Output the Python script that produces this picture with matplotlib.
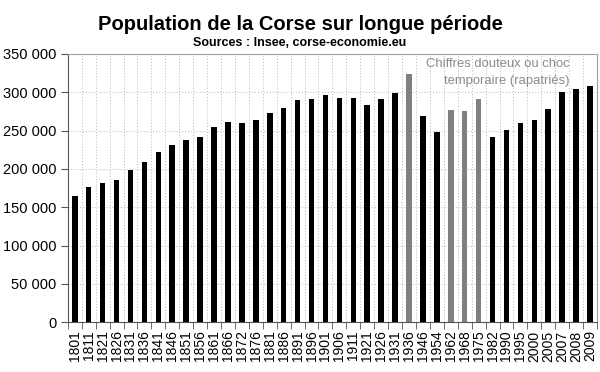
import matplotlib
matplotlib.use("Agg")
import matplotlib.pyplot as plt
import numpy as np

plt.rcParams['font.family'] = ['Liberation Sans', 'DejaVu Sans']

years = ["1801", "1811", "1821", "1826", "1831", "1836", "1841", "1846", "1851", "1856",
         "1861", "1866", "1872", "1876", "1881", "1886", "1891", "1896", "1901", "1906",
         "1911", "1921", "1926", "1931", "1936", "1946", "1954", "1962", "1968", "1975",
         "1982", "1990", "1995", "2000", "2005", "2007", "2008", "2009"]
population = [164600, 176000, 181100, 185500, 198500, 208600, 222400, 231200, 237300, 241200,
              254300, 260800, 259500, 263800, 273400, 279100, 289600, 291300, 296900, 292000,
              292000, 283500, 290800, 298700, 323500, 268600, 248200, 277000, 275200, 290800,
              241600, 251200, 259400, 264300, 278300, 300900, 304800, 308800]
doubtful = ["1936", "1962", "1968", "1975"]
yticks = [0, 50000, 100000, 150000, 200000, 250000, 300000, 350000]
ytick_labels = ["0", "50 000", "100 000", "150 000", "200 000", "250 000", "300 000", "350 000"]

fig = plt.figure(figsize=(6, 3.72), dpi=100)
ax = fig.add_axes([0.113, 0.134, 0.882, 0.721])

x = np.arange(len(years))
colors = ["#808080" if y in doubtful else "#000000" for y in years]
ax.bar(x, population, width=0.4, color=colors, zorder=3)

ax.set_xlim(-0.5, len(years) - 0.5)
ax.set_ylim(0, 350000)
ax.set_yticks(yticks)
ax.set_yticklabels(ytick_labels, fontsize=10.5)
ax.set_xticks(x)
ax.set_xticklabels(years, rotation=90, fontsize=10)
ax.tick_params(axis='x', length=0, pad=6)
ax.tick_params(axis='y', length=5, direction='out', pad=3, color='#555555')
ax.set_xticks(np.arange(-0.5, len(years)), minor=True)
ax.tick_params(axis='x', which='minor', length=5, direction='out', color='#555555')

ax.grid(axis='y', which='major', color='#b8b8b8', linestyle=(0, (1, 2)), linewidth=0.7, zorder=0)
ax.grid(axis='x', which='minor', color='#b8b8b8', linestyle=(0, (1, 2)), linewidth=0.7, zorder=0)
ax.grid(axis='x', which='major', visible=False)

for s in ['top', 'right']:
    ax.spines[s].set_color('#a0a0a0')
ax.spines['left'].set_color('#555555')
ax.spines['bottom'].set_color('#555555')

fig.text(0.5, 0.935, "Population de la Corse sur longue période", ha='center', va='center',
         fontsize=14.5, fontweight='bold')
fig.text(0.5, 0.885, "Sources : Insee, corse-economie.eu", ha='center', va='center',
         fontsize=9, fontweight='bold')

ax.text(0.948, 0.985, "Chiffres douteux ou choc\ntemporaire (rapatriés)", transform=ax.transAxes,
        ha='right', va='top', fontsize=9.4, color='#8a8a8a', linespacing=1.55)

fig.savefig("out.png", dpi=100)
